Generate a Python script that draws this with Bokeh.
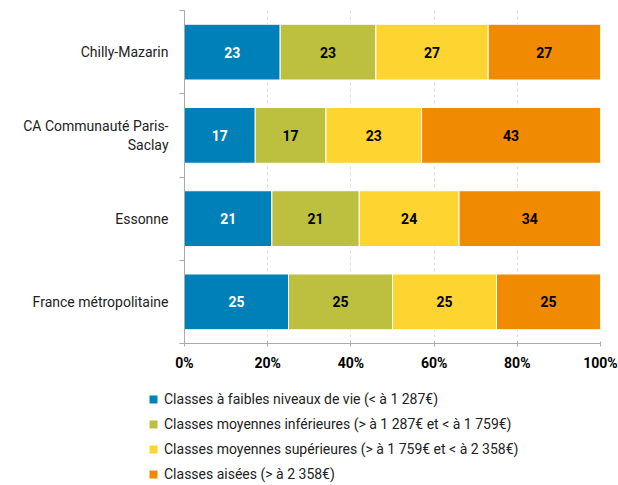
from bokeh.plotting import figure
from bokeh.layouts import column, row
from bokeh.models import ColumnDataSource, FixedTicker, Legend, LegendItem
from bokeh.core.properties import value
from bokeh.embed import file_html
from bokeh.resources import INLINE

territoires = ["Chilly-Mazarin", "CA Communauté Paris-\nSaclay", "Essonne", "France métropolitaine"]
faibles = [23, 17, 21, 25]
moy_inf = [23, 17, 21, 25]
moy_sup = [27, 23, 24, 25]
aisees = [27, 43, 34, 25]
series_names = [
    "Classes à faibles niveaux de vie (< à 1 287€)",
    "Classes moyennes inférieures (> à 1 287€ et < à 1 759€)",
    "Classes moyennes supérieures (> à 1 759€ et < à 2 358€)",
    "Classes aisées (> à 2 358€)",
]
colors = ["#0080b9", "#bcc03e", "#fed530", "#f08a00"]
label_colors = ["white", "black", "black", "black"]
x_ticks = [0, 20, 40, 60, 80, 100]

n = len(territoires)
ypos = [n - 1 - i + 0.5 for i in range(n)]

p = figure(frame_width=416, frame_height=333, x_range=(0, 100), y_range=(0, n),
           output_backend="svg", toolbar_location=None,
           min_border_left=184, min_border_right=18, min_border_top=10, min_border_bottom=32)
p.outline_line_color = None
p.background_fill_color = "white"

all_series = [faibles, moy_inf, moy_sup, aisees]
left = [0] * n
for k, vals in enumerate(all_series):
    right = [l + v for l, v in zip(left, vals)]
    src = ColumnDataSource(dict(y=ypos, left=left, right=right,
                                mid=[(l + r) / 2 for l, r in zip(left, right)],
                                txt=[str(v) for v in vals]))
    p.hbar(y="y", left="left", right="right", height=0.67, source=src,
           fill_color=colors[k], line_color="white", line_width=1)
    p.text(x="mid", y="y", text="txt", source=src, text_align="center", text_baseline="middle",
           text_font=value("Roboto"), text_font_style="bold", text_font_size="14px",
           text_color=label_colors[k])
    left = right

# axes
p.xaxis.ticker = FixedTicker(ticks=x_ticks)
p.xaxis.major_label_overrides = {t: f"{t}%" for t in x_ticks}
p.xaxis.axis_line_color = "#aaaaaa"
p.xaxis.major_tick_line_color = "#aaaaaa"
p.xaxis.major_tick_in = 2
p.xaxis.major_tick_out = 3
p.xaxis.minor_tick_line_color = None
p.xaxis.major_label_text_font = "Roboto"
p.xaxis.major_label_text_font_style = "bold"
p.xaxis.major_label_text_font_size = "14px"
p.xaxis.major_label_text_color = "black"
p.xaxis.major_label_standoff = 8

p.yaxis.ticker = FixedTicker(ticks=ypos, minor_ticks=list(range(n + 1)))
p.yaxis.major_label_overrides = {y: t for y, t in zip(ypos, territoires)}
p.yaxis.axis_line_color = "#aaaaaa"
p.yaxis.major_tick_line_color = None
p.yaxis.minor_tick_line_color = "#aaaaaa"
p.yaxis.minor_tick_out = 5
p.yaxis.minor_tick_in = 0
p.yaxis.major_label_text_font = "Roboto"
p.yaxis.major_label_text_font_size = "14px"
p.yaxis.major_label_text_color = "#222222"
p.yaxis.major_label_standoff = 10

p.xgrid.grid_line_color = "#dddddd"
p.xgrid.grid_line_dash = "3 3"
p.ygrid.grid_line_color = None

# legend in its own strip below the chart (proxy glyphs lie outside the strip's visible range)
p2 = figure(frame_width=610, frame_height=110, x_range=(0, 1), y_range=(0, 1),
            output_backend="svg", toolbar_location=None,
            min_border_left=0, min_border_right=0, min_border_top=0, min_border_bottom=0)
p2.axis.visible = False
p2.grid.visible = False
p2.outline_line_color = None
items = []
for k in range(len(series_names)):
    r = p2.quad(left=[-3], right=[-2], top=[-2], bottom=[-3], fill_color=colors[k], line_color=None)
    items.append(LegendItem(label=series_names[k], renderers=[r]))
legend = Legend(items=items, location=(148, 1), orientation="vertical",
                glyph_width=10, glyph_height=10, label_standoff=6, spacing=5,
                label_height=20, label_text_font="Roboto", label_text_font_size="14px",
                label_text_color="#222222", padding=0, margin=0,
                border_line_color=None, background_fill_alpha=0)
p2.add_layout(legend, "center")

layout = column(p, row(p2), spacing=0)
open("out.html", "w").write(file_html(layout, INLINE))
